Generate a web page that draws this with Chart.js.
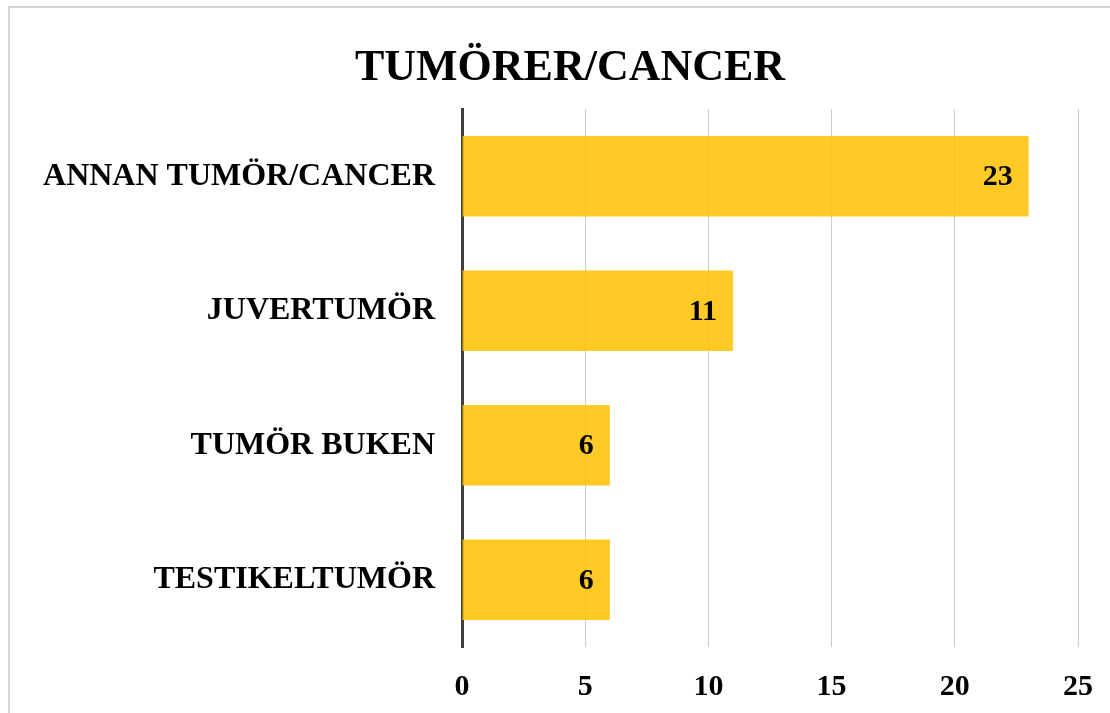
<!DOCTYPE html>
<html>
<head>
<meta charset="utf-8">
<script src="https://cdn.jsdelivr.net/npm/chart.js@4"></script>
<style>
  html, body { margin: 0; padding: 0; background: #fff; }
  #wrap { width: 1110px; height: 713px; }
</style>
</head>
<body>
<div id="wrap"><canvas id="tumorChart" width="1110" height="713"></canvas></div>
<script>
// Chart data
const categories = ['ANNAN TUMÖR/CANCER', 'JUVERTUMÖR', 'TUMÖR BUKEN', 'TESTIKELTUMÖR'];
const counts = [23, 11, 6, 6];
const xTicks = [0, 5, 10, 15, 20, 25];
const chartTitle = 'TUMÖRER/CANCER';

const serif = "'Liberation Serif', 'DejaVu Serif', serif";

// light grey frame + title (title drawn here so it can sit off-centre like the original)
const framePlugin = {
    id: 'frame',
    beforeDraw(chart) {
        const ctx = chart.ctx;
        ctx.save();
        ctx.strokeStyle = '#d6d6d6';
        ctx.lineWidth = 2;
        ctx.strokeRect(9, 7, 1300, 900);
        ctx.font = 'bold 44px ' + serif;
        ctx.fillStyle = '#000';
        ctx.textAlign = 'center';
        ctx.textBaseline = 'alphabetic';
        ctx.fillText(chartTitle, 570, 80);
        ctx.restore();
    }
};

// value labels inside the bar end
const valueLabels = {
    id: 'valueLabels',
    afterDatasetsDraw(chart) {
        const ctx = chart.ctx;
        const meta = chart.getDatasetMeta(0);
        ctx.save();
        ctx.font = 'bold 30px ' + serif;
        ctx.fillStyle = '#000';
        ctx.textAlign = 'right';
        ctx.textBaseline = 'middle';
        meta.data.forEach((bar, i) => {
            ctx.fillText(String(counts[i]), bar.x - 16, bar.y + 1);
        });
        ctx.restore();
    }
};

new Chart(document.getElementById('tumorChart'), {
    type: 'bar',
    data: {
        labels: categories,
        datasets: [{
            data: counts,
            backgroundColor: 'rgba(255, 192, 0, 0.85)',
            borderWidth: 0,
            barPercentage: 0.6,
            categoryPercentage: 1
        }]
    },
    options: {
        indexAxis: 'y',
        responsive: false,
        animation: false,
        layout: { padding: { left: 0, right: 32, top: 109, bottom: 10 } },
        plugins: {
            legend: { display: false },
            tooltip: { enabled: false },
            title: { display: false }
        },
        scales: {
            x: {
                min: 0,
                max: 25,
                afterBuildTicks: (axis) => {
                    axis.ticks = xTicks.map(v => ({ value: v }));
                },
                afterFit: (axis) => {
                    axis.height = 56;
                    axis.paddingLeft = 0;
                    axis.paddingRight = 0;
                },
                grid: { color: '#cccccc', lineWidth: 1, drawTicks: false },
                border: { display: false },
                ticks: {
                    color: '#000',
                    padding: 22,
                    font: { family: serif, size: 30, weight: 'bold' }
                }
            },
            y: {
                afterFit: (axis) => { axis.width = 462; },
                grid: { display: false, drawTicks: false },
                border: { display: true, color: '#404040', width: 3 },
                ticks: {
                    color: '#000',
                    padding: 27,
                    font: { family: serif, size: 32, weight: 'bold' }
                }
            }
        }
    },
    plugins: [framePlugin, valueLabels]
});
</script>
</body>
</html>
